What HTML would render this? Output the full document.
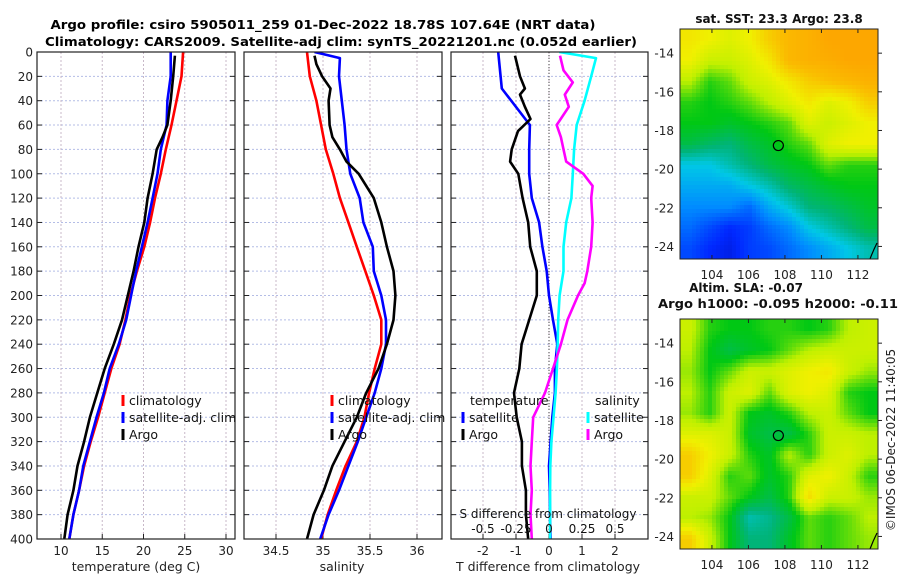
<!DOCTYPE html>
<html><head><meta charset="utf-8"><style>
html,body{margin:0;padding:0;background:#fff;}
svg{display:block;font-family:"DejaVu Sans","Liberation Sans",sans-serif;}
</style></head><body>
<svg id="fig" width="900" height="580" viewBox="0 0 900 580" xmlns="http://www.w3.org/2000/svg">
<rect width="900" height="580" fill="#fff"/>
<text x="323" y="29" font-size="12.5" font-weight="bold" text-anchor="middle" textLength="545" lengthAdjust="spacingAndGlyphs">Argo profile: csiro 5905011_259 01-Dec-2022 18.78S 107.64E (NRT data)</text>
<text x="341" y="46" font-size="12.5" font-weight="bold" text-anchor="middle" textLength="592" lengthAdjust="spacingAndGlyphs">Climatology: CARS2009. Satellite-adj clim: synTS_20221201.nc (0.052d earlier)</text>
<g id="plots"></g>
</svg>
<script>
// ---------- data ----------
const depthStd=[0,20,40,60,80,100,120,140,160,180,200,220,240,260,280,300,320,340,360,380,400];
const yTickLabels=[0,20,40,60,80,100,120,140,160,180,200,220,240,260,280,300,320,340,360,380,400];
const tempTickLabels=[10,15,20,25,30];
const salTickLabels=[34.5,35,35.5,36];
const dTTickLabels=[-2,-1,0,1,2];
const dSTickLabels=[-0.5,-0.25,0,0.25,0.5];
const tempClim=[24.8,24.6,24.0,23.4,22.7,22.1,21.4,20.8,20.1,19.2,18.4,17.8,17.1,16.1,15.3,14.5,13.6,12.8,12.2,11.5,11.0];
const tempSat=[23.3,23.3,22.9,22.8,22.1,21.7,21.1,20.5,19.8,19.1,18.5,17.9,17.0,15.9,15.2,14.3,13.5,12.7,12.2,11.5,11.0];
const tempArgoDepth=[3,20,40,60,70,80,100,120,140,160,180,200,220,240,260,280,300,320,340,360,380,400];
const tempArgo=[23.8,23.6,23.3,22.9,22.3,21.6,21.1,20.5,20.1,19.4,18.8,18.1,17.4,16.4,15.3,14.4,13.5,12.8,12.0,11.5,10.8,10.4];
const salClim=[34.83,34.86,34.93,34.98,35.03,35.11,35.18,35.27,35.36,35.45,35.54,35.62,35.62,35.55,35.49,35.44,35.36,35.24,35.14,35.05,34.98];
const salSatDepth=[0,5,20,40,60,80,100,120,140,160,180,200,220,240,260,280,300,320,340,360,380,400];
const salSat=[34.91,35.18,35.17,35.20,35.23,35.25,35.29,35.39,35.43,35.53,35.54,35.62,35.67,35.67,35.62,35.55,35.46,35.37,35.27,35.17,35.06,34.97];
const salArgoDepth=[3,10,20,30,40,60,70,80,90,100,120,140,160,180,200,220,240,260,280,300,320,340,360,380,400];
const salArgo=[34.91,34.93,34.99,35.08,35.06,35.07,35.10,35.18,35.25,35.38,35.54,35.62,35.68,35.75,35.77,35.75,35.68,35.59,35.46,35.36,35.23,35.10,35.01,34.90,34.83];
const dTSatDepth=[0,30,60,80,100,120,140,160,180,200,220,240,260,280,300,320,340,360,380,400];
const dTSat=[-1.54,-1.43,-0.58,-0.6,-0.6,-0.52,-0.3,-0.2,-0.07,0.0,0.12,0.25,0.18,0.18,0.1,0.05,0.0,0.02,0.03,0.05];
const dTArgoDepth=[3,20,30,35,45,55,65,80,90,100,120,140,160,180,200,220,240,260,280,300,320,340,360,380,400];
const dTArgo=[-1.03,-0.88,-0.73,-0.88,-0.73,-0.56,-0.94,-1.13,-1.18,-0.93,-0.8,-0.63,-0.57,-0.37,-0.37,-0.6,-0.83,-0.9,-1.06,-0.98,-0.82,-0.82,-0.7,-0.7,-0.63];
const dSSatDepth=[0,5,20,40,60,80,100,120,140,160,180,200,220,240,260,280,300,320,340,360,380,400];
const dSSat=[0.078,0.356,0.32,0.27,0.21,0.19,0.18,0.17,0.13,0.11,0.11,0.08,0.07,0.066,0.06,0.05,0.034,0.018,0.01,0.008,0.008,0.008];
const dSArgoDepth=[3,15,25,35,45,60,70,80,90,100,110,120,140,160,180,190,200,220,240,260,280,300,320,340,360,380,400];
const dSArgo=[0.083,0.11,0.18,0.12,0.15,0.058,0.09,0.11,0.13,0.26,0.33,0.32,0.33,0.32,0.29,0.27,0.22,0.14,0.09,0.03,-0.03,-0.12,-0.13,-0.14,-0.13,-0.14,-0.13];
const lonTicks=[104,106,108,110,112];
const latTicks=[-14,-16,-18,-20,-22,-24];
const sstGrid=[
[0.8,0.78,0.75,0.78,0.85,0.9,0.92,0.95,0.95,0.95],
[0.78,0.72,0.72,0.75,0.8,0.9,0.92,0.93,0.95,0.95],
[0.7,0.62,0.65,0.72,0.75,0.8,0.85,0.88,0.9,0.92],
[0.62,0.6,0.62,0.65,0.7,0.75,0.8,0.75,0.78,0.85],
[0.6,0.6,0.58,0.6,0.62,0.65,0.75,0.72,0.75,0.78],
[0.55,0.52,0.5,0.55,0.58,0.62,0.65,0.75,0.78,0.78],
[0.4,0.4,0.45,0.5,0.55,0.58,0.6,0.65,0.62,0.62],
[0.35,0.35,0.35,0.4,0.45,0.52,0.55,0.58,0.6,0.6],
[0.3,0.3,0.3,0.25,0.35,0.42,0.5,0.52,0.55,0.58],
[0.25,0.2,0.15,0.18,0.25,0.3,0.4,0.45,0.5,0.55],
[0.2,0.15,0.12,0.18,0.2,0.25,0.3,0.35,0.4,0.45]];
const slaGrid=[
[0.72,0.62,0.6,0.6,0.62,0.62,0.6,0.62,0.7,0.72],
[0.7,0.6,0.55,0.58,0.6,0.65,0.7,0.72,0.72,0.72],
[0.68,0.6,0.65,0.72,0.72,0.75,0.78,0.8,0.72,0.68],
[0.7,0.62,0.72,0.75,0.65,0.75,0.78,0.75,0.62,0.6],
[0.68,0.62,0.72,0.6,0.58,0.62,0.7,0.72,0.65,0.6],
[0.75,0.75,0.72,0.58,0.55,0.55,0.62,0.72,0.72,0.7],
[0.85,0.78,0.72,0.62,0.58,0.7,0.62,0.72,0.75,0.7],
[0.85,0.75,0.62,0.65,0.58,0.62,0.75,0.78,0.72,0.62],
[0.72,0.72,0.65,0.6,0.55,0.62,0.82,0.72,0.72,0.68],
[0.7,0.68,0.6,0.45,0.48,0.55,0.65,0.62,0.65,0.7],
[0.85,0.72,0.6,0.5,0.5,0.58,0.65,0.62,0.65,0.68]];
const floatLon=107.64, floatLat=-18.78;

// ---------- helpers ----------
const NS="http://www.w3.org/2000/svg";
const G=document.getElementById('plots');
function el(tag,attrs,parent){const e=document.createElementNS(NS,tag);for(const k in attrs)e.setAttribute(k,attrs[k]);(parent||G).appendChild(e);return e;}
const TOP=52,BOT=539;
const yD=d=>TOP+d*(BOT-TOP)/400;
const xT=t=>61+(t-10)*8.25;
const xS=s=>323+(s-35)*94;
const xdT=v=>549+v*33;
const xdS=v=>549+v*132;
const panels=[{x0:37,x1:235,name:'temperature-panel'},{x0:244,x1:442,name:'salinity-panel'},{x0:451,x1:648,name:'difference-panel'}];

panels.forEach((p,i)=>{
  const g=el('g',{});
  
  
  const cp=el('clipPath',{id:'clip'+i},g);
  el('rect',{x:p.x0,y:TOP,width:p.x1-p.x0,height:BOT-TOP},cp);
  p.g=g;
  yTickLabels.forEach(d=>{
    const l=el('line',{x1:p.x0,x2:p.x1,y1:yD(d),y2:yD(d),stroke:'#b4bde6','stroke-width':1,'stroke-dasharray':'2,2'},g);
    
    
    el('line',{x1:p.x0,x2:p.x0+5,y1:yD(d),y2:yD(d),stroke:'#222'},g);
    el('line',{x1:p.x1-5,x2:p.x1,y1:yD(d),y2:yD(d),stroke:'#222'},g);
  });
});
function vgrid(p,ticks,fx,labelY,fmt){
  ticks.forEach(t=>{
    const x=fx(t);
    const l=el('line',{x1:x,x2:x,y1:TOP,y2:BOT,stroke:'#c8b8c8','stroke-width':1,'stroke-dasharray':'2,2'},p.g);
    
    
    el('line',{x1:x,x2:x,y1:BOT,y2:BOT-5,stroke:'#222'},p.g);
    const tx=el('text',{x:x,y:labelY,'font-size':12,'text-anchor':'middle',fill:'#222'},p.g);
    tx.textContent=fmt?fmt(t):t;
    
    
  });
}
vgrid(panels[0],tempTickLabels,xT,555);
vgrid(panels[1],salTickLabels,xS,555);
vgrid(panels[2],dTTickLabels,xdT,555);
// y tick labels
yTickLabels.forEach(d=>{
  const t=el('text',{x:33,y:yD(d)+4.5,'font-size':12,'text-anchor':'end',fill:'#222'});
  t.textContent=d;
  
  
});
// zero line
const zl=el('line',{x1:xdT(0),x2:xdT(0),y1:TOP,y2:BOT,stroke:'#444','stroke-width':1,'stroke-dasharray':'1,2'},panels[2].g);



function series(p,idx,depths,vals,fx,color,name){
  const pts=depths.map((d,i)=>fx(vals[i]).toFixed(1)+','+yD(d).toFixed(1)).join(' ');
  const pl=el('polyline',{points:pts,fill:'none',stroke:color,'stroke-width':2.6,'stroke-linejoin':'round','clip-path':'url(#clip'+idx+')'},p.g);
  
  
}
series(panels[0],0,depthStd,tempClim,xT,'#ff0000','temp-climatology-line');
series(panels[0],0,depthStd,tempSat,xT,'#0000ff','temp-satellite-line');
series(panels[0],0,tempArgoDepth,tempArgo,xT,'#000','temp-argo-line');
series(panels[1],1,depthStd,salClim,xS,'#ff0000','sal-climatology-line');
series(panels[1],1,salSatDepth,salSat,xS,'#0000ff','sal-satellite-line');
series(panels[1],1,salArgoDepth,salArgo,xS,'#000','sal-argo-line');
series(panels[2],2,dTSatDepth,dTSat,xdT,'#0000ff','dT-satellite-line');
series(panels[2],2,dTArgoDepth,dTArgo,xdT,'#000','dT-argo-line');
series(panels[2],2,dSSatDepth,dSSat,xdS,'#00ffff','dS-satellite-line');
series(panels[2],2,dSArgoDepth,dSArgo,xdS,'#ff00ff','dS-argo-line');

panels.forEach(p=>{
  const r=el('rect',{x:p.x0,y:TOP,width:p.x1-p.x0,height:BOT-TOP,fill:'none',stroke:'#222','stroke-width':1.2},p.g);
  
  
});
// S diff top-axis labels
const sdt=el('text',{x:548,y:518,'font-size':12,'text-anchor':'middle',fill:'#111'});
sdt.textContent='S difference from climatology';


dSTickLabels.forEach(v=>{
  const t=el('text',{x:xdS(v),y:533,'font-size':12,'text-anchor':'middle',fill:'#111'});
  t.textContent=v;
  
  
});
// x labels
[['temperature (deg C)',136,'temp-axis-title'],['salinity',342,'salinity-axis-title'],['T difference from climatology',548,'t-diff-axis-title']].forEach(a=>{
  const t=el('text',{x:a[1],y:571,'font-size':12.5,'text-anchor':'middle',fill:'#222'});
  t.textContent=a[0];
  
  
});
// legends
function legendEntry(x,y,color,label,name){
  const g=el('g',{});
  
  
  if(color) el('line',{x1:x,x2:x,y1:y-10,y2:y+1,stroke:color,'stroke-width':3},g);
  const t=el('text',{x:x+6,y:y,'font-size':12.5,fill:'#111'},g);
  t.textContent=label;
}
[[123,'temp'],[332,'sal']].forEach(([x,n])=>{
  legendEntry(x,405,'#ff0000','climatology',n+'-legend-climatology');
  legendEntry(x,422,'#0000ff','satellite-adj. clim',n+'-legend-satellite');
  legendEntry(x,439,'#000','Argo',n+'-legend-argo');
});
legendEntry(464,405,null,'temperature','diff-legend-temperature-header');
legendEntry(463,422,'#0000ff','satellite','diff-legend-t-satellite');
legendEntry(463,439,'#000','Argo','diff-legend-t-argo');
legendEntry(589,405,null,'salinity','diff-legend-salinity-header');
legendEntry(588,422,'#00ffff','satellite','diff-legend-s-satellite');
legendEntry(588,439,'#ff00ff','Argo','diff-legend-s-argo');

// ---------- maps ----------
const cmStops=[[0,[0,0,140]],[0.15,[0,40,255]],[0.3,[0,140,255]],[0.4,[0,200,230]],[0.5,[0,180,120]],[0.6,[0,200,20]],[0.7,[190,240,0]],[0.78,[240,240,0]],[0.88,[250,190,0]],[1,[255,150,0]]];
function cmap(v){
  for(let i=1;i<cmStops.length;i++){if(v<=cmStops[i][0]){const a=cmStops[i-1],b=cmStops[i];const f=(v-a[0])/(b[0]-a[0]);return 'rgb('+a[1].map((c,k)=>Math.round(c+(b[1][k]-c)*f)).join(',')+')';}}
  return 'rgb(255,150,0)';
}
function drawMap(x0,y0,w,h,grid,name,title1,title2,tyTitle){
  const g=el('g',{});
  
  
  const R=grid.length,C=grid[0].length,cell=4;
  for(let py=0;py<h;py+=cell){for(let px=0;px<w;px+=cell){
    const gx=Math.min(Math.max((px+cell/2)/w*C-0.5,0),C-1),gy=Math.min(Math.max((py+cell/2)/h*R-0.5,0),R-1);
    const i0=Math.floor(gx),j0=Math.floor(gy),i1=Math.min(i0+1,C-1),j1=Math.min(j0+1,R-1),fx=gx-i0,fy=gy-j0;
    const v=grid[j0][i0]*(1-fx)*(1-fy)+grid[j0][i1]*fx*(1-fy)+grid[j1][i0]*(1-fx)*fy+grid[j1][i1]*fx*fy;
    el('rect',{x:x0+px,y:y0+py,width:Math.min(cell,w-px),height:Math.min(cell,h-py),fill:cmap(v)},g);
  }}
  const lonX=l=>x0+(l-102.25)*(w/10.85);
  const latY=l=>y0+(-12.75-l)*(h/11.9);
  lonTicks.forEach(l=>{
    el('line',{x1:lonX(l),x2:lonX(l),y1:y0,y2:y0+4,stroke:'#222'},g);
    el('line',{x1:lonX(l),x2:lonX(l),y1:y0+h,y2:y0+h-4,stroke:'#222'},g);
    const t=el('text',{x:lonX(l),y:y0+h+20,'font-size':12,'text-anchor':'middle',fill:'#222'},g);
    t.textContent=l;
    
    
  });
  latTicks.forEach(l=>{
    el('line',{x1:x0+w,x2:x0+w+4,y1:latY(l),y2:latY(l),stroke:'#222'},g);
    const t=el('text',{x:x0-6,y:latY(l)+4.5,'font-size':12,'text-anchor':'end',fill:'#222'},g);
    t.textContent=l;
    
    
  });
  el('path',{d:`M${x0+w-8} ${y0+h} Q${x0+w-5} ${y0+h-8} ${x0+w-1} ${y0+h-16}`,fill:'none',stroke:'#000','stroke-width':1.2},g);
  const c=el('circle',{cx:lonX(floatLon),cy:latY(floatLat),r:5,fill:'none',stroke:'#000','stroke-width':1.2},g);
  
  
  el('rect',{x:x0,y:y0,width:w,height:h,fill:'none',stroke:'#222','stroke-width':1},g);
  const t1=el('text',{x:title1[1],y:title1[2],'font-size':12,'font-weight':'bold','text-anchor':'middle',fill:'#111'},g);
  t1.textContent=title1[0];
  
  
  if(title2){
    const t2=el('text',{x:title2[1],y:title2[2],'font-size':12,'font-weight':'bold','text-anchor':'middle',fill:'#111',textLength:title2[3],lengthAdjust:'spacingAndGlyphs'},g);
    t2.textContent=title2[0];
    
    
  }
}
drawMap(680,29,198,230,sstGrid,'sst-map',['sat. SST: 23.3 Argo: 23.8',779,23],null);
drawMap(680,319,198,230,slaGrid,'sla-map',['Altim. SLA: -0.07',746,292],['Argo h1000: -0.095 h2000: -0.11',778,308,240]);
const cr=el('text',{x:0,y:0,'font-size':12,'text-anchor':'middle',fill:'#222',transform:'translate(895,440) rotate(-90)'});
cr.textContent='©IMOS 06-Dec-2022 11:40:05';


</script>
</body></html>
